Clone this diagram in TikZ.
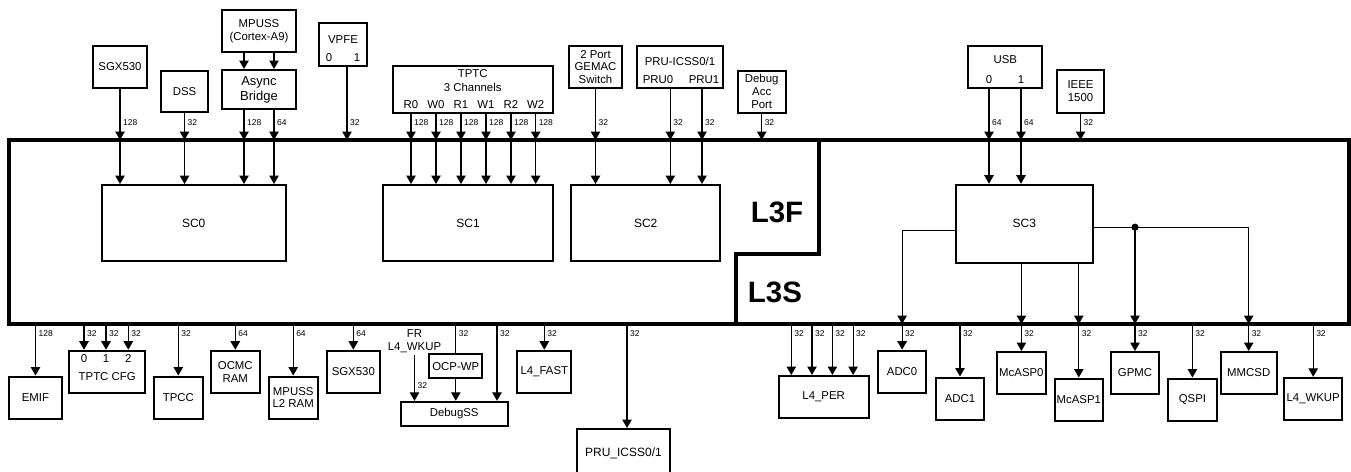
\documentclass[tikz,border=0pt]{standalone}
\usepackage{fontspec}
\setmainfont{Liberation Sans}
\usetikzlibrary{arrows.meta, positioning, calc}

\tikzset{
  blk/.style={draw, line width=2pt, inner sep=0pt, align=center,
              minimum height=42pt, font=\fontsize{11.4}{12.8}\selectfont},
  scbox/.style={blk, minimum height=76pt, font=\fontsize{12}{13}\selectfont},
  lbl/.style={inner sep=0pt, font=\fontsize{11.4}{12.8}\selectfont},
  wd/.style={anchor=west, inner sep=1pt, xshift=1.5pt, font=\fontsize{8.5}{9}\selectfont},
  wdt/.style={wd, yshift=17pt},
  wdb/.style={wd, yshift=-10pt},
  lnk/.style={line width=1.1pt, ->},
  bus/.style={line width=3.2pt},
  bigl/.style={inner sep=0pt, font=\fontsize{29.5}{30}\selectfont\bfseries},
}

\begin{document}
\begin{tikzpicture}[x=1pt, y=-1pt, >={Triangle[width=9.5pt,length=8.5pt]}]
  \useasboundingbox (0,0) rectangle (1351,471);

  % L3 interconnect frame
  \draw[bus] (9,140) rectangle (1349,324);
  \draw[bus] (819,140) -- (819,254) -- (736,254) -- (736,324);
  \coordinate (ftop) at (9,140);
  \coordinate (fbot) at (9,324);
  \node[bigl] (l3f) at (777,212) {L3F};
  \node[bigl] (l3s) at (775,292) {L3S};

  % Switch fabrics
  \node[scbox, minimum width=184pt] (sc0) at (193.7,223) {SC0};
  \node[scbox, minimum width=170pt] (sc1) at (468,223) {SC1};
  \node[scbox, minimum width=148.7pt] (sc2) at (645.7,223) {SC2};
  \node[scbox, minimum width=137.4pt, minimum height=78pt] (sc3) at (1024.3,223.7) {SC3};

  % Masters
  \node[blk, minimum width=54pt] (sgxt) at (120,67) {SGX530};
  \node[blk, minimum width=47pt, minimum height=41pt] (dss) at (184.5,91.5) {DSS};
  \node[blk, minimum width=74pt] (mpuss) at (259,31) {MPUSS\\(Cortex-A9)};
  \node[blk, minimum width=74pt, minimum height=39pt,
        font=\fontsize{13}{15}\selectfont] (async) at (259,89.5) {Async\\Bridge};
  \node[blk, minimum width=48pt, minimum height=43pt] (vpfe) at (343,44.5) {};
  \node[lbl] (vpfet) at (343,40) {VPFE};
  \node[lbl] (vpfe0) at (329,58) {0};
  \node[lbl] (vpfe1) at (357,58) {1};
  \node[blk, minimum width=160pt, minimum height=47pt] (tptc) at (472.7,89.2) {};
  \node[lbl, align=center, font=\fontsize{11.4}{14}\selectfont] (tptct) at (472.7,80.3) {TPTC\\3 Channels};
  \node[lbl] (r0) at (411,105) {R0};
  \node[lbl] (w0) at (436,105) {W0};
  \node[lbl] (r1) at (461,105) {R1};
  \node[lbl] (w1) at (486,105) {W1};
  \node[lbl] (r2) at (511,105) {R2};
  \node[lbl] (w2) at (535.7,105) {W2};
  \node[blk, minimum width=53pt, minimum height=42.6pt] (gemac) at (595.5,67) {2 Port\\GEMAC\\Switch};
  \node[blk, minimum width=86.6pt, minimum height=42.6pt] (pru) at (680,67) {};
  \node[lbl] (prut) at (680,61) {PRU-ICSS0/1};
  \node[lbl] (pru0) at (658,80) {PRU0};
  \node[lbl] (pru1) at (704,80) {PRU1};
  \node[blk, minimum width=48pt] (dap) at (761.7,91.7) {Debug\\Acc\\Port};
  \node[blk, minimum width=74pt, minimum height=42.6pt] (usb) at (1005.3,67) {};
  \node[lbl] (usbt) at (1005.3,60) {USB};
  \node[lbl] (usb0) at (989,80) {0};
  \node[lbl] (usb1) at (1021,80) {1};
  \node[blk, minimum width=47.6pt, minimum height=42.7pt] (ieee) at (1080.5,91.3) {IEEE\\1500};

  % Master ports into L3F
  \draw[lnk] (sgxt.south) -- (sgxt.south |- ftop) node[wdt] {128};
  \draw[lnk] (sgxt.south |- ftop) -- (sgxt.south |- sc0.north);
  \draw[lnk] (dss.south) -- (dss.south |- ftop) node[wdt] {32};
  \draw[lnk] (dss.south |- ftop) -- (dss.south |- sc0.north);
  \draw[lnk] (244,0 |- mpuss.south) -- (244,0 |- async.north);
  \draw[lnk] (274,0 |- mpuss.south) -- (274,0 |- async.north);
  \draw[lnk] (244,0 |- async.south) -- (244,0 |- ftop) node[wdt] {128};
  \draw[lnk] (244,0 |- ftop) -- (244,0 |- sc0.north);
  \draw[lnk] (274,0 |- async.south) -- (274,0 |- ftop) node[wdt] {64};
  \draw[lnk] (274,0 |- ftop) -- (274,0 |- sc0.north);
  \draw[lnk] (347,0 |- vpfe.south) -- (347,0 |- ftop) node[wdt] {32};
  \foreach \p in {r0,w0,r1,w1,r2,w2} {
    \draw[lnk] (\p |- tptc.south) -- (\p |- ftop) node[wdt] {128};
    \draw[lnk] (\p |- ftop) -- (\p |- sc1.north);
  }
  \draw[lnk] (gemac.south) -- (gemac.south |- ftop) node[wdt] {32};
  \draw[lnk] (gemac.south |- ftop) -- (gemac.south |- sc2.north);
  \draw[lnk] (670.3,0 |- pru.south) -- (670.3,0 |- ftop) node[wdt] {32};
  \draw[lnk] (670.3,0 |- ftop) -- (670.3,0 |- sc2.north);
  \draw[lnk] (702,0 |- pru.south) -- (702,0 |- ftop) node[wdt] {32};
  \draw[lnk] (702,0 |- ftop) -- (702,0 |- sc2.north);
  \draw[lnk] (dap.south) -- (dap.south |- ftop) node[wdt] {32};
  \draw[lnk] (usb0 |- usb.south) -- (usb0 |- ftop) node[wdt] {64};
  \draw[lnk] (usb0 |- ftop) -- (usb0 |- sc3.north);
  \draw[lnk] (usb1 |- usb.south) -- (usb1 |- ftop) node[wdt] {64};
  \draw[lnk] (usb1 |- ftop) -- (usb1 |- sc3.north);
  \draw[lnk] (ieee.south) -- (ieee.south |- ftop) node[wdt] {32};

  % Slaves on L3F / L3S (left)
  \node[blk, minimum width=53pt] (emif) at (35.5,397.5) {EMIF};
  \node[blk, minimum width=75.7pt] (tptccfg) at (107.2,371.7) {};
  \node[lbl] (cfg0) at (84,359) {0};
  \node[lbl] (cfg1) at (106,359) {1};
  \node[lbl] (cfg2) at (128.3,359) {2};
  \node[lbl] (tptccfgt) at (107.2,376.7) {TPTC CFG};
  \node[blk, minimum width=48.7pt] (tpcc) at (178.3,397.5) {TPCC};
  \node[blk, minimum width=49.3pt] (ocmc) at (235.3,371.7) {OCMC\\RAM};
  \node[blk, minimum width=49pt] (mpul2) at (293.2,397.5) {MPUSS\\L2 RAM};
  \node[blk, minimum width=53.3pt] (sgxb) at (353.3,371.7) {SGX530};
  \node[lbl, align=center, inner sep=2pt] (fr) at (414.5,341.5) {FR\\L4\_WKUP};
  \node[blk, minimum width=53pt, minimum height=24pt] (ocpwp) at (455.8,366.3) {OCP-WP};
  \node[blk, minimum width=107pt, minimum height=24pt] (dbgss) at (454.2,413.8) {DebugSS};
  \node[blk, minimum width=54pt] (l4fast) at (544.3,371.7) {L4\_FAST};
  \node[blk, minimum width=93pt, minimum height=48pt,
        font=\fontsize{12}{13}\selectfont] (pruicss) at (623.5,453) {PRU\_ICSS0/1};

  \draw[lnk] (emif.north |- fbot) node[wdb] {128} -- (emif.north);
  \draw[lnk] (cfg0 |- fbot) node[wdb] {32} -- (cfg0 |- tptccfg.north);
  \draw[lnk] (cfg1 |- fbot) node[wdb] {32} -- (cfg1 |- tptccfg.north);
  \draw[lnk] (cfg2 |- fbot) node[wdb] {32} -- (cfg2 |- tptccfg.north);
  \draw[lnk] (tpcc.north |- fbot) node[wdb] {32} -- (tpcc.north);
  \draw[lnk] (ocmc.north |- fbot) node[wdb] {64} -- (ocmc.north);
  \draw[lnk] (mpul2.north |- fbot) node[wdb] {64} -- (mpul2.north);
  \draw[lnk] (sgxb.north |- fbot) node[wdb] {64} -- (sgxb.north);
  \draw[lnk] (fr.south) -- (fr.south |- dbgss.north) node[wd, pos=0.67] {32};
  \draw[line width=1.1pt] (ocpwp.north |- fbot) node[wdb] {32} -- (ocpwp.north);
  \draw[lnk] (ocpwp.south) -- (ocpwp.south |- dbgss.north);
  \draw[lnk] (497,0 |- fbot) node[wdb] {32} -- (497,0 |- dbgss.north);
  \draw[lnk] (l4fast.north |- fbot) node[wdb] {32} -- (l4fast.north);
  \draw[lnk] (627,0 |- fbot) node[wdb] {32} -- (627,0 |- pruicss.north);

  % Slaves on L3S (right)
  \node[blk, minimum width=89.8pt] (l4per) at (823.7,397) {L4\_PER};
  \node[blk, minimum width=48.2pt] (adc0) at (902.1,371.7) {ADC0};
  \node[blk, minimum width=48.7pt] (adc1) at (960,398.5) {ADC1};
  \node[blk, minimum width=48.3pt] (mcasp0) at (1021.4,373) {McASP0};
  \node[blk, minimum width=48.6pt] (mcasp1) at (1078.8,399.5) {McASP1};
  \node[blk, minimum width=48pt] (gpmc) at (1135,373) {GPMC};
  \node[blk, minimum width=48.6pt] (qspi) at (1192.4,399.5) {QSPI};
  \node[blk, minimum width=55.8pt] (mmcsd) at (1248.7,373) {MMCSD};
  \node[blk, minimum width=58.4pt] (l4wkup) at (1313.2,398.8) {L4\_WKUP};

  % SC3 fan-out
  \coordinate (tapl) at ($(sc3.west)+(0,7)$);
  \coordinate (tapr) at ($(sc3.east)+(0,3.5)$);
  \draw[lnk] (tapl) -- (tapl -| adc0.north) -- (adc0.north |- fbot);
  \draw[lnk] (mcasp0.north |- sc3.south) -- (mcasp0.north |- fbot);
  \draw[lnk] (mcasp1.north |- sc3.south) -- (mcasp1.north |- fbot);
  \draw[lnk] (tapr) -- (tapr -| mmcsd.north) -- (mmcsd.north |- fbot);
  \draw[lnk] (tapr -| gpmc.north) -- (gpmc.north |- fbot);
  \fill (tapr -| gpmc.north) circle (3.6pt);

  \draw[lnk] (791.3,0 |- fbot) node[wdb] {32} -- (791.3,0 |- l4per.north);
  \draw[lnk] (812,0 |- fbot) node[wdb] {32} -- (812,0 |- l4per.north);
  \draw[lnk] (832.4,0 |- fbot) node[wdb] {32} -- (832.4,0 |- l4per.north);
  \draw[lnk] (853.1,0 |- fbot) node[wdb] {32} -- (853.1,0 |- l4per.north);
  \draw[lnk] (adc0.north |- fbot) node[wdb] {32} -- (adc0.north);
  \draw[lnk] (adc1.north |- fbot) node[wdb] {32} -- (adc1.north);
  \draw[lnk] (mcasp0.north |- fbot) node[wdb] {32} -- (mcasp0.north);
  \draw[lnk] (mcasp1.north |- fbot) node[wdb] {32} -- (mcasp1.north);
  \draw[lnk] (gpmc.north |- fbot) node[wdb] {32} -- (gpmc.north);
  \draw[lnk] (qspi.north |- fbot) node[wdb] {32} -- (qspi.north);
  \draw[lnk] (mmcsd.north |- fbot) node[wdb] {32} -- (mmcsd.north);
  \draw[lnk] (l4wkup.north |- fbot) node[wdb] {32} -- (l4wkup.north);
\end{tikzpicture}
\end{document}
